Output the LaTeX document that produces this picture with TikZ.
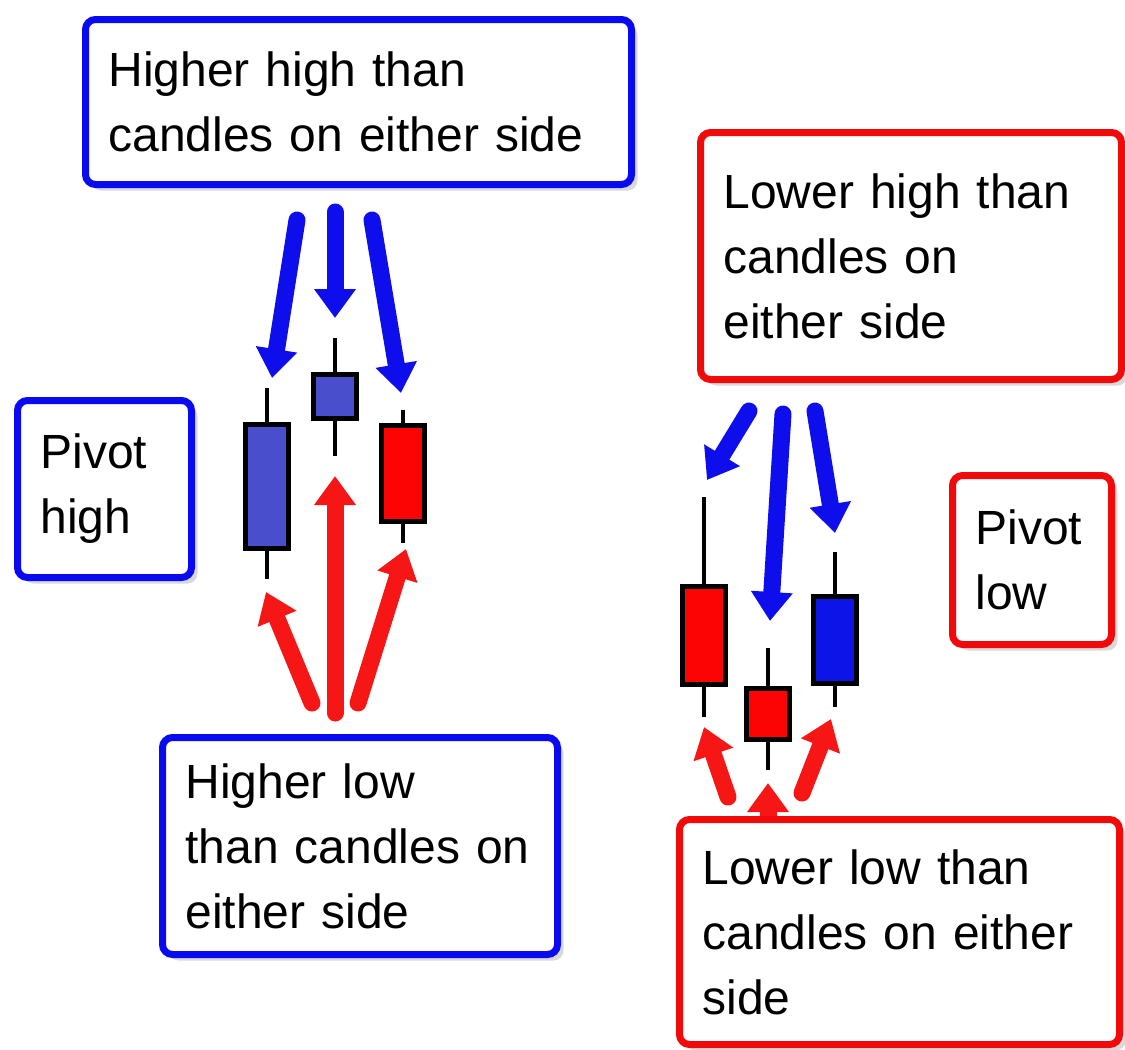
\documentclass[tikz,border=0pt]{standalone}
\usepackage{fontspec}
\setmainfont{Liberation Sans}
\usetikzlibrary{arrows.meta,shadows}
\definecolor{boxblue}{RGB}{10,10,240}
\definecolor{boxred}{RGB}{240,10,10}
\definecolor{candleblue}{RGB}{72,78,204}
\definecolor{candlebluedark}{RGB}{12,20,232}
\definecolor{candlered}{RGB}{252,4,4}
\definecolor{arrowblue}{RGB}{14,14,236}
\definecolor{arrowred}{RGB}{246,22,22}

\begin{document}
\begin{tikzpicture}[x=1pt, y=-1pt,
  box/.style={rectangle, draw, line width=7pt, rounded corners=10pt, fill=white, anchor=north west, align=left,
    inner xsep=23pt, inner ysep=0pt, font=\fontsize{48}{65}\selectfont,
    drop shadow={opacity=0.3, shadow xshift=6pt, shadow yshift=-6pt}},
  bluebox/.style={box, draw=boxblue},
  redbox/.style={box, draw=boxred},
  arrow/.style={line width=17pt, line cap=round, -{Triangle[length=29pt, width=40pt]}},
  wick/.style={line width=4pt},
  candlebody/.style={draw, line width=5pt},
]
\useasboundingbox (0,0) rectangle (1125,1050);

% === Arrow end points ===
\coordinate (hiTailA) at (297,220);  \coordinate (hiTipA) at (272,378);
\coordinate (hiTailB) at (335,212);  \coordinate (hiTipB) at (335,318);
\coordinate (hiTailC) at (372,220);  \coordinate (hiTipC) at (401,393);
\coordinate (hlTailA) at (312,703);  \coordinate (hlTipA) at (266,592);
\coordinate (hlTailB) at (335,713);  \coordinate (hlTipB) at (335,476);
\coordinate (hlTailC) at (358,703);  \coordinate (hlTipC) at (406,549);
\coordinate (lhTailA) at (749,411);  \coordinate (lhTipA) at (707,480);
\coordinate (lhTailB) at (783,414);  \coordinate (lhTipB) at (770,621);
\coordinate (lhTailC) at (815,411);  \coordinate (lhTipC) at (835,533);
\coordinate (llTailA) at (728,797);  \coordinate (llTipA) at (704,727);
\coordinate (llTailB) at (768,860);  \coordinate (llTipB) at (768,783);
\coordinate (llTailC) at (802,793);  \coordinate (llTipC) at (831,719);

% === Arrows ===
\foreach \a in {A,B,C} {
  \draw[arrow, arrowblue] (hiTail\a) -- (hiTip\a);
  \draw[arrow, arrowred] (hlTail\a) -- (hlTip\a);
  \draw[arrow, arrowblue] (lhTail\a) -- (lhTip\a);
  \draw[arrow, arrowred] (llTail\a) -- (llTip\a);
}

% === Candles (x / wick top / body top / body bottom / wick bottom / colour) ===
\foreach \cx/\wt/\bt/\bb/\wb/\cc in {
  267/388/424/548/579/candleblue, 335/338/374/418/456/candleblue, 403/410/425/521/543/candlered,
  704/497/586/684/717/candlered, 768/648/688/739/770/candlered, 835/552/596/683/707/candlebluedark} {
  \draw[wick] (\cx,\wt) -- (\cx,\wb);
  \draw[candlebody, fill=\cc] (\cx-21.5,\bt) rectangle (\cx+21.5,\bb);
}

% === Boxes ===
\node[bluebox, text width=500pt, minimum height=165pt] (higherhigh) at (82,16)
  {Higher high than\\candles on either side};
\node[bluebox, text width=128pt, minimum height=177pt] (pivothigh) at (14,397)
  {Pivot\\high};
\node[redbox, text width=375pt, minimum height=247pt] (lowerhigh) at (697,129)
  {Lower high than\\candles on\\either side};
\node[redbox, text width=113pt, minimum height=169pt] (pivotlow) at (949,472)
  {Pivot\\low};
\node[bluebox, text width=349pt, minimum height=217pt] (higherlow) at (159,734)
  {Higher low\\than candles on\\either side};
\node[redbox, text width=394pt, minimum height=225pt] (lowerlow) at (676,816)
  {Lower low than\\candles on either\\side};

\end{tikzpicture}
\end{document}
